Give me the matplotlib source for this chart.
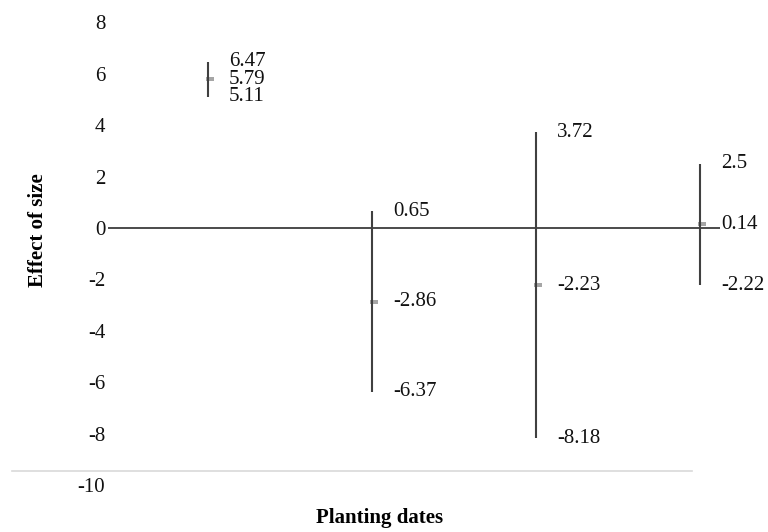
import matplotlib
matplotlib.use("Agg")
import matplotlib.pyplot as plt
from matplotlib.lines import Line2D

categories = [1, 2, 3, 4]
high_vals = [6.47, 0.65, 3.72, 2.5]
mean_vals = [5.79, -2.86, -2.23, 0.14]
low_vals = [5.11, -6.37, -8.18, -2.22]
y_ticks = [-10, -8, -6, -4, -2, 0, 2, 4, 6, 8]

plt.rcParams['font.family'] = ['Liberation Serif', 'DejaVu Serif']
W, H = 768, 532
fig = plt.figure(figsize=(W / 100, H / 100), dpi=100)

# axes placement in pixels
left_px, right_px = 108, 720
ymin, ymax = -10, 8
zero_px = 228
ppu = 25.7
top_px = zero_px - ymax * ppu
bot_px = zero_px - ymin * ppu
ax = fig.add_axes([left_px / W, 1 - bot_px / H, (right_px - left_px) / W, (bot_px - top_px) / H])
ax.set_xlim(0.39, 4.12)
ax.set_ylim(ymin, ymax)
for s in ax.spines.values():
    s.set_visible(False)
ax.set_xticks([])
ax.set_yticks(y_ticks)
ax.set_yticklabels([str(t) for t in y_ticks], fontsize=15, color='#111111')
ax.tick_params(axis='y', length=0, pad=2)

ax.axhline(0, color='#1a1a1a', lw=1.1, zorder=1)

for x, hi, m, lo in zip(categories, high_vals, mean_vals, low_vals):
    ax.plot([x, x], [lo, hi], color='#404040', lw=1.5, solid_capstyle='butt', zorder=2)
ax.plot(categories, mean_vals, linestyle='none',
        marker=[(-0.3, -0.3), (1, -0.3), (1, 0.3), (-0.3, 0.3)], markersize=8,
        color='#a6a6a6', markeredgewidth=0, zorder=1.5)

def fmt(v):
    return ('%g' % v)

for x, hi, m, lo in zip(categories, high_vals, mean_vals, low_vals):
    for v in (hi, m, lo):
        ax.annotate(fmt(v), (x, v), xytext=(15, 0), textcoords='offset points',
                    ha='left', va='center', fontsize=15, color='#111111',
                    annotation_clip=False)

# light bottom line
fig.add_artist(Line2D([12 / W, 692 / W], [1 - 471 / H, 1 - 471 / H],
                      color='#d9d9d9', lw=1.2, transform=fig.transFigure))

fig.text(38 / W, 1 - 230 / H, 'Effect of size', rotation=90, ha='center', va='center',
         fontsize=15, fontweight='bold')
fig.text(380 / W, 1 - 518 / H, 'Planting dates', ha='center', va='center',
         fontsize=15, fontweight='bold')

fig.savefig('out.png', dpi=100)
